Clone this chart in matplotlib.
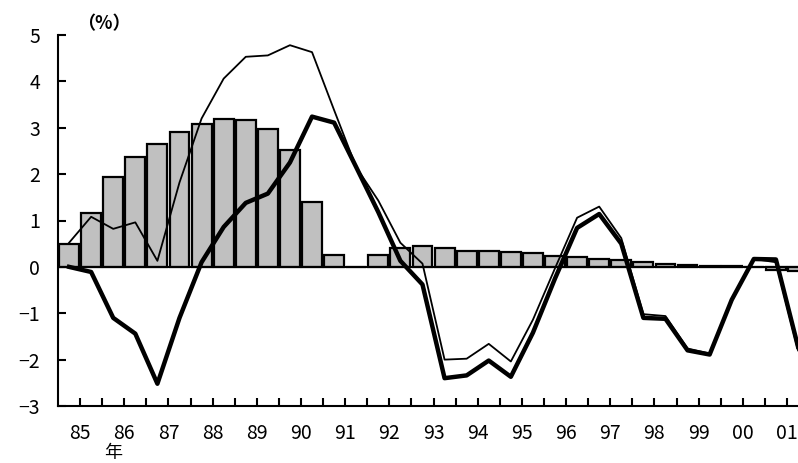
import matplotlib
matplotlib.use("Agg")
import matplotlib.pyplot as plt
import numpy as np

plt.rcParams['font.family'] = ['Noto Sans CJK JP', 'DejaVu Sans']

# Half-year periods 1985H1 .. 2001H2
periods = [f"{y}H{h}" for y in ["85", "86", "87", "88", "89", "90", "91", "92", "93",
                                "94", "95", "96", "97", "98", "99", "00", "01"] for h in (1, 2)]
year_labels = ["85", "86", "87", "88", "89", "90", "91", "92", "93",
               "94", "95", "96", "97", "98", "99", "00", "01"]

bar_values = [0.50, 1.17, 1.94, 2.38, 2.66, 2.91, 3.09, 3.19, 3.16, 2.97, 2.51, 1.39,
              0.25, 0.00, 0.26, 0.40, 0.44, 0.40, 0.35, 0.34, 0.33, 0.30, 0.24, 0.21,
              0.17, 0.14, 0.11, 0.06, 0.05, 0.02, 0.01, 0.00, -0.06, -0.09]

thick_values = [0.00, -0.11, -1.10, -1.44, -2.52, -1.10, 0.10, 0.86, 1.38, 1.58, 2.25, 3.24,
                3.11, 2.15, 1.18, 0.13, -0.38, -2.40, -2.34, -2.02, -2.37, -1.42, -0.25, 0.84,
                1.14, 0.50, -1.10, -1.12, -1.80, -1.89, -0.71, 0.17, 0.16, -1.72]

thin_values = [0.52, 1.08, 0.82, 0.96, 0.13, 1.82, 3.20, 4.06, 4.53, 4.56, 4.78, 4.63,
               3.38, 2.15, 1.43, 0.52, 0.07, -2.00, -1.98, -1.66, -2.04, -1.14, -0.03, 1.06,
               1.30, 0.62, -1.02, -1.06, -1.76, -1.87, -0.70, 0.17, 0.10, -1.80]

fig = plt.figure(figsize=(7.98, 4.63), dpi=100)
ax = fig.add_axes([58 / 798, 57 / 463, 1 - 58 / 798, 371 / 463])

x = np.arange(len(periods))
ax.bar(x, bar_values, width=0.9, color="#c0c0c0", edgecolor="black", linewidth=1.6, zorder=2)
ax.axhline(0, color="black", linewidth=1.5, zorder=2.5)
ax.plot(x, thin_values, color="black", linewidth=1.3, zorder=3)
ax.plot(x, thick_values, color="black", linewidth=3.2, zorder=4)

ax.set_xlim(-0.5, 33.0)
ax.set_ylim(-3, 5)

ax.spines['top'].set_visible(False)
ax.spines['right'].set_visible(False)
ax.spines['left'].set_linewidth(1.5)
ax.spines['bottom'].set_linewidth(1.5)

ax.set_yticks(range(-3, 6))
ax.set_yticklabels([str(v).replace("-", "\u2212") for v in range(-3, 6)])

tick_pos = np.arange(0.5, len(periods) - 0.5, 1.0)
labels = []
for i in range(len(tick_pos)):
    labels.append(year_labels[i // 2] if i % 2 == 0 else "")
ax.set_xticks(tick_pos)
ax.set_xticklabels(labels)

ax.tick_params(axis='y', direction='in', length=6, width=1.5, pad=13, labelsize=14)
ax.tick_params(axis='x', direction='in', length=6, width=1.5, pad=12, labelsize=14)

fig.text(104 / 798, 1 - 24 / 463, "（%）", ha="center", va="center", fontsize=13, fontweight="bold")
fig.text(113 / 798, 1 - 453 / 463, "年", ha="center", va="center", fontsize=13)

fig.savefig("out.png", dpi=100)
